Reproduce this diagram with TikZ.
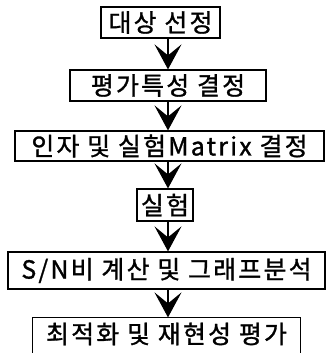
\documentclass[tikz,border=0pt]{standalone}
\usepackage{fontspec}
\newfontfamily\kr{Noto Sans CJK KR}[LetterSpace=9,FakeBold=1.2]
\usetikzlibrary{arrows.meta}
\begin{document}
\begin{tikzpicture}[x=1bp,y=-1bp,
  boxline/.style={line width=1.2bp},
  box/.style={draw, boxline, inner sep=0pt, font=\kr\fontsize{25}{25}\selectfont},
  arr/.style={line width=1.2bp, -{Stealth[length=25bp,width=27bp,inset=11bp]}}]
\useasboundingbox (0,0) rectangle (329,353);
\clip (0,0) rectangle (329,353);
\coordinate (ax) at (168,0);
\node[box, minimum width=119bp, minimum height=31bp] (b1) at (160.5,22.5) {대상 선정};
\node[box, minimum width=196bp, minimum height=31bp] (b2) at (168,85.5) {평가특성 결정};
\node[box, minimum width=309bp, minimum height=30bp] (b3) at (169.5,146) {인자 및 실험Matrix 결정};
\node[box, minimum width=56bp, minimum height=32bp] (b4) at (165,205) {실험};
\node[box, minimum width=317bp, minimum height=37bp] (b5) at (166.5,270.5) {S/N비 계산 및 그래프분석};
\node[box, draw=none, minimum width=267bp, minimum height=32bp] (b6) at (166.5,334) {최적화 및 재현성 평가};
\draw[boxline] ([yshift=-20bp]b6.south west) -- (b6.north west) -- (b6.north east) -- ([yshift=-20bp]b6.south east);
\draw[arr] (b1.south -| ax) -- (b2.north -| ax);
\draw[arr] (b2.south -| ax) -- (b3.north -| ax);
\draw[arr] (b3.south -| ax) -- (b4.north -| ax);
\draw[arr] (b4.south -| ax) -- (b5.north -| ax);
\draw[arr] (b5.south -| ax) -- (b6.north -| ax);
\end{tikzpicture}
\end{document}
